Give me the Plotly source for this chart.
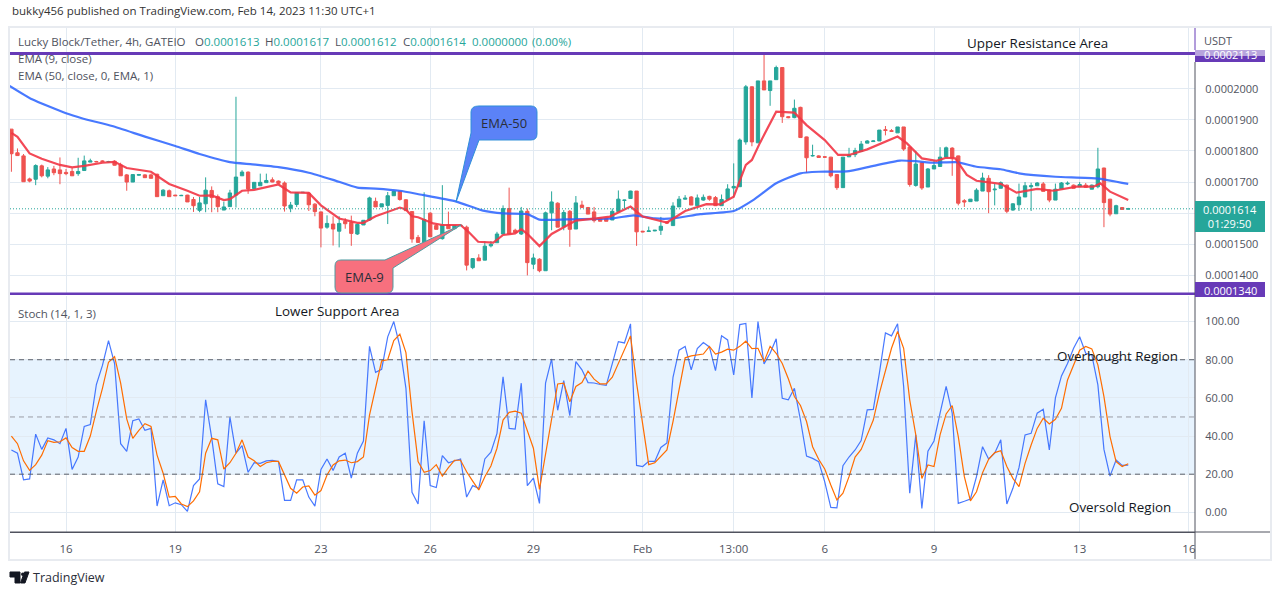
import plotly.graph_objects as go

W, H = 1280, 595
SCALE = 1e-7

opens = [1870,1794,1784,1710,1709,1752,1719,1742,1739,1731,1734,1727,1737,1764,1766,1768,1765,1767,1755,1723,1700,1722,1723,1723,1725,1656,1672,1658,1656,1658,1644,1609,1630,1673,1653,1610,1621,1658,1720,1732,1679,1688,1698,1707,1703,1697,1616,1628,1666,1664,1629,1604,1555,1565,1542,1574,1570,1533,1562,1578,1638,1620,1625,1656,1670,1643,1605,1522,1506,1600,1560,1518,1562,1550,1560,1555,1425,1456,1449,1495,1505,1533,1615,1545,1533,1606,1436,1452,1415,1601,1632,1556,1606,1549,1626,1618,1604,1584,1583,1578,1605,1641,1647,1671,1542,1541,1543,1545,1572,1560,1620,1645,1652,1624,1642,1654,1650,1624,1644,1681,1685,1829,2006,1826,2025,1994,2029,2068,1910,1907,1940,1845,1784,1784,1781,1780,1724,1682,1781,1788,1798,1825,1830,1832,1868,1865,1858,1877,1812,1689,1762,1684,1742,1750,1780,1809,1784,1640,1637,1639,1671,1712,1675,1680,1690,1610,1627,1652,1685,1688,1694,1674,1642,1678,1694,1690,1685,1690,1677,1685,1745,1645,1598,1618,1613]
highs = [1870,1808,1790,1714,1757,1756,1748,1752,1779,1742,1745,1778,1785,1775,1768,1770,1768,1770,1762,1726,1725,1726,1725,1727,1727,1677,1676,1659,1659,1659,1652,1652,1715,1686,1660,1637,1675,1974,1738,1734,1700,1727,1727,1715,1705,1702,1636,1668,1668,1668,1632,1605,1593,1590,1590,1584,1592,1566,1577,1653,1650,1630,1668,1672,1672,1645,1606,1530,1667,1603,1565,1690,1605,1560,1562,1560,1455,1468,1510,1510,1540,1625,1682,1550,1620,1615,1470,1455,1605,1670,1635,1610,1610,1655,1640,1620,1620,1587,1585,1615,1673,1643,1672,1671,1543,1557,1546,1588,1575,1635,1655,1658,1655,1660,1660,1656,1655,1660,1693,1760,1840,2012,2008,2025,2113,2025,2074,2068,1912,1965,1942,1846,1820,1786,1783,1781,1725,1780,1810,1810,1832,1835,1834,1867,1880,1870,1877,1877,1813,1800,1764,1745,1770,1812,1814,1812,1785,1645,1645,1680,1730,1722,1695,1702,1692,1632,1695,1700,1698,1700,1700,1676,1695,1700,1702,1692,1700,1697,1692,1810,1746,1646,1627,1619,1617]
lows = [1733,1784,1701,1699,1690,1715,1712,1722,1693,1722,1720,1720,1737,1764,1764,1765,1763,1753,1720,1672,1700,1720,1713,1711,1653,1656,1653,1655,1655,1636,1604,1603,1603,1603,1603,1610,1621,1618,1720,1662,1679,1688,1698,1699,1695,1605,1603,1620,1665,1607,1590,1490,1550,1496,1490,1550,1495,1530,1562,1575,1620,1620,1565,1656,1640,1608,1505,1505,1500,1524,1548,1515,1550,1548,1558,1416,1420,1447,1449,1490,1505,1533,1533,1537,1530,1400,1420,1410,1415,1545,1555,1545,1492,1549,1618,1597,1570,1574,1574,1578,1605,1615,1647,1495,1539,1540,1542,1530,1565,1560,1620,1644,1626,1624,1640,1640,1624,1624,1644,1650,1685,1820,1815,1826,1996,1945,2029,1890,1905,1905,1843,1730,1782,1778,1779,1715,1675,1682,1781,1780,1798,1825,1830,1832,1850,1862,1858,1800,1685,1685,1675,1684,1742,1750,1780,1720,1625,1620,1637,1639,1671,1600,1625,1680,1600,1608,1607,1652,1607,1688,1670,1635,1642,1678,1690,1680,1685,1683,1677,1680,1555,1590,1598,1612,1612]
closes = [1791,1785,1701,1703,1753,1720,1739,1730,1727,1727,1720,1734,1768,1768,1765,1766,1766,1754,1720,1700,1724,1724,1714,1712,1653,1674,1653,1656,1657,1636,1624,1633,1674,1650,1621,1620,1665,1716,1732,1678,1699,1699,1705,1700,1696,1623,1626,1666,1667,1627,1605,1552,1567,1549,1567,1566,1535,1564,1577,1649,1620,1630,1656,1670,1644,1608,1517,1506,1579,1524,1548,1562,1550,1560,1561,1433,1454,1447,1494,1500,1533,1615,1533,1538,1607,1441,1456,1415,1601,1636,1555,1602,1548,1633,1618,1597,1576,1574,1574,1606,1645,1642,1671,1540,1540,1543,1545,1558,1568,1623,1645,1648,1626,1649,1651,1645,1624,1644,1678,1686,1835,2006,1829,2025,1996,2025,2068,1910,1907,1937,1843,1778,1785,1779,1780,1720,1682,1780,1787,1801,1822,1832,1832,1867,1866,1863,1877,1806,1692,1758,1681,1742,1753,1780,1810,1778,1632,1636,1645,1674,1713,1669,1677,1698,1606,1630,1652,1688,1688,1697,1670,1642,1677,1697,1696,1680,1692,1683,1690,1742,1634,1597,1624,1612,1614]

ema9_bars = [0,1,3,5,8,10,12,15,17,19,23,26,29,31,33,35,36,37,38,40,44,46,49,51,54,57,58,60,62,64,65,66,67,68,69.5,71,74,75.3,76.9,79.4,81,83,84,85.2,87,89,91,93,96.4,98.6,102,104,108,111,114.5,116.7,119,121,122,123.3,126,129,131,134,136.2,138,141,146,147.5,150,152.4,154,155.5,157.4,159,163,165.6,169,171.7,175.5,178.3,179.4,181,184]
ema9_vals = [1858,1845,1792,1775,1755,1747,1752,1762,1765,1745,1733,1694,1672,1656,1657,1642,1645,1660,1672,1675,1692,1667,1665,1625,1583,1569,1569,1590,1603,1618,1612,1590,1587,1579,1567,1562,1562,1540,1508,1505,1530,1535,1549,1530,1494,1533,1554,1576,1583,1589,1621,1589,1570,1607,1629,1628,1653,1755,1771,1825,1926,1923,1883,1835,1787,1787,1805,1846,1825,1776,1768,1778,1776,1723,1704,1694,1666,1678,1672,1685,1685,1696,1669,1642]

ema50_bars = [-0.3,3.4,9,11.6,16.6,22,27,31,36,39.7,44,49,53,57,60,64,67.3,73.3,77.7,81,85,87,91.5,99,102.5,106,109,113.5,119,122.2,126,130,133,137.6,142,146.4,149,152,155.7,159,163,166,172,178.8,184]
ema50_vals = [2009,1966,1921,1905,1880,1846,1816,1790,1764,1757,1748,1730,1707,1682,1679,1672,1660,1637,1608,1599,1597,1579,1580,1583,1593,1583,1583,1597,1607,1642,1696,1728,1733,1734,1752,1769,1767,1762,1764,1749,1741,1728,1717,1712,1694]

stoch_k = [32.7,31,17,17.5,41,33,39,38,36,44,22.5,29,45,46,67,77,90,78,36,32,48,49,43,44,3.3,17,3.5,5,4,0.5,14,17.5,59,39,15,13.5,50,31,35,21,26,25.7,27,27.3,26.6,6.3,6.3,17,17,8,3.3,22.5,28,22,29,31,18,31,37.4,87,73.4,75,92,100,87,65,10.5,4.4,48,14,13,29.7,26,27,28,8,14,12.6,28,31.5,41.4,71,44,43.7,67.7,14,18,4.7,67.7,80.4,53.5,69,50.7,79,74.7,68,67.8,67,66.6,78,89.5,88.8,98.8,24.6,24,26.7,26.7,34,36.4,70.8,85,87,74.7,85.8,89,86.7,74.3,92.5,90.4,72,98.4,99,60,100,77.8,83.4,91,59.8,59,65,48.4,29.5,28.3,26.6,16,2.6,2.3,24.5,29,32.7,37.6,53.7,54,73,94,92.5,98.8,66,10,40.6,2,32,37.4,52,66,52,4.7,5.8,7,18.7,34.4,28,31,38,4.4,12.6,23.4,40.6,41.4,52,54,32.7,60,71.5,78,86,92,83.4,82.5,66.8,33,19,27.4,24.6,24.8]
stoch_d = [40,36,27,22,25,30,37.6,36.7,37,39,34,32,32,40,53,65,78.7,81.6,67.7,49,38.8,43,46.5,45,30,20.5,8,8.4,4.4,3,6,10.8,31,38.8,38,22.7,26,31,38,29,27,24,26,26.7,26.7,19.6,12.6,10,13.3,13.8,9,11.4,19.6,24.8,27,27.4,26,26.6,29,51,65.6,79.4,80,90,93.4,83.7,52.8,26.6,21,21.9,25,19,23.4,27.3,27.3,21.3,16.4,11.7,18.7,24.3,33.6,48.4,52.4,53,52,42.3,33.6,12,30,50,67.3,67.7,57.9,66,68,74,69.8,67.3,67.3,70.8,78,85,92.5,67.7,46.7,25,26,29.5,32.7,47.6,64,81,82,82.5,83,87,83,84,85.5,85,87,89.7,85.8,86,79,87,83.4,78,70,60.7,56,47.6,34.4,27.8,22.7,14.3,6.5,10,18.7,29,33,40.6,48.4,62.4,73.8,86,94.8,86,59,40.6,17.8,24.8,24,40.6,51.6,56,39.7,18.7,6,10.8,20.8,27.8,31.3,32.3,24,17.8,13.5,25.7,35.3,44,49.3,46.3,48.8,54.5,69.4,77.3,85,87,85.7,77.3,60.7,39.7,26.6,24,25.5]

x_tick_bars = [9,27,51,69,86,104,119,134,152,176,194]
x_tick_text = ["16","19","23","26","29","Feb","13:00","6","9","13","16"]
price_ticks = [1400,1500,1600,1700,1800,1900,2000]
price_tick_text = ["0.0001400","0.0001500","","0.0001700","0.0001800","0.0001900","0.0002000"]
stoch_ticks = [0,20,40,60,80,100]
resistance, support, last_price = 2113, 1340, 1614
stoch_levels = [80,50,20]

bars = list(range(len(closes)))
p = lambda seq: [v * SCALE for v in seq]

GREEN, RED = "#26a69a", "#ef5350"
GRID = "#e2eaf2"
PURPLE = "#673ab7"
TXT = "#50535e"
FONT = "Open Sans"

def X(px): return px / W
def Y(py): return 1 - py / H

fig = go.Figure()
fig.add_trace(go.Candlestick(
    x=bars, open=p(opens), high=p(highs), low=p(lows), close=p(closes),
    xaxis="x2", yaxis="y2", whiskerwidth=0,
    increasing=dict(line=dict(color=GREEN, width=1), fillcolor=GREEN),
    decreasing=dict(line=dict(color=RED, width=1), fillcolor=RED),
    hoverinfo="skip", showlegend=False))
fig.add_trace(go.Scatter(x=ema50_bars, y=p(ema50_vals), xaxis="x2", yaxis="y2", mode="lines",
                         line=dict(color="#2962ff", width=2.2, shape="spline", smoothing=0.5), opacity=0.85, hoverinfo="skip", showlegend=False))
fig.add_trace(go.Scatter(x=ema9_bars, y=p(ema9_vals), xaxis="x2", yaxis="y2", mode="lines",
                         line=dict(color="#f23645", width=2.2), opacity=0.9, hoverinfo="skip", showlegend=False))
fig.add_trace(go.Scatter(x=bars, y=stoch_k, xaxis="x", yaxis="y", mode="lines",
                         line=dict(color="#2962ff", width=1.2), opacity=0.85, hoverinfo="skip", showlegend=False))
fig.add_trace(go.Scatter(x=bars, y=stoch_d, xaxis="x", yaxis="y", mode="lines",
                         line=dict(color="#ff6d00", width=1.2), hoverinfo="skip", showlegend=False))

xrange_ = [-0.23, 195]
price_range = [1337 * SCALE, 2195 * SCALE]
stoch_range = [-10.3, 113.4]
xdom = [X(10), X(1195)]

fig.update_layout(
    width=W, height=H, autosize=False,
    margin=dict(l=0, r=0, t=0, b=0),
    paper_bgcolor="white", plot_bgcolor="white",
    font=dict(family=FONT, size=11, color=TXT),
    showlegend=False, hovermode=False, boxgap=0.22,
    xaxis=dict(domain=xdom, range=xrange_, anchor="y", tickmode="array", tickvals=x_tick_bars,
               ticktext=x_tick_text, showgrid=True, gridcolor=GRID, gridwidth=1, zeroline=False,
               ticks="outside", ticklen=6, tickcolor="rgba(0,0,0,0)", showline=True,
               linecolor=TXT, linewidth=1, tickfont=dict(size=11.5, color=TXT), tickangle=0),
    xaxis2=dict(domain=xdom, range=xrange_, anchor="y2", tickmode="array", tickvals=x_tick_bars,
                showticklabels=False, showgrid=True, gridcolor=GRID, gridwidth=1, zeroline=False,
                rangeslider=dict(visible=False), ticks=""),
    yaxis=dict(domain=[Y(532), Y(296)], range=stoch_range, side="right", anchor="x", tickmode="array",
               tickvals=stoch_ticks, tickformat=".2f", showgrid=True, gridcolor=GRID, gridwidth=1,
               zeroline=False, ticks="outside", ticklen=7, tickcolor="rgba(0,0,0,0)",
               tickfont=dict(size=11, color=TXT)),
    yaxis2=dict(domain=[Y(295), Y(28)], range=price_range, side="right", anchor="x2", tickmode="array",
                tickvals=p(price_ticks), ticktext=price_tick_text, showgrid=True, gridcolor=GRID, gridwidth=1,
                zeroline=False, ticks="outside", ticklen=7, tickcolor="rgba(0,0,0,0)",
                tickfont=dict(size=11, color=TXT)),
)

shapes = []
shapes.append(dict(type="rect", xref="x", yref="y", x0=xrange_[0], x1=xrange_[1], y0=stoch_levels[2], y1=stoch_levels[0],
                   fillcolor="rgba(33,150,243,0.11)", line_width=0, layer="below"))
for lv, dash_col in zip(stoch_levels, ["#5d606b", "#9a9da6", "#5d606b"]):
    shapes.append(dict(type="line", xref="x", yref="y", x0=xrange_[0], x1=xrange_[1], y0=lv, y1=lv,
                       line=dict(color=dash_col, width=1, dash="5px,4px"), layer="above"))
shapes.append(dict(type="line", xref="x2", yref="y2", x0=xrange_[0], x1=xrange_[1], y0=last_price*SCALE, y1=last_price*SCALE,
                   line=dict(color=GREEN, width=1, dash="1px,2px"), layer="above"))
for lv in (resistance, support):
    shapes.append(dict(type="line", xref="x2", yref="y2", x0=xrange_[0], x1=xrange_[1], y0=lv*SCALE, y1=lv*SCALE,
                       line=dict(color=PURPLE, width=3), layer="above"))

def prect(x0, y0, x1, y1, fill, line=None):
    return dict(type="rect", xref="paper", yref="paper", x0=X(x0), x1=X(x1), y0=Y(y1), y1=Y(y0),
                fillcolor=fill, line=dict(color=line or fill, width=0 if line is None else 1), layer="above")

def pline(x0, y0, x1, y1, col, w=1):
    return dict(type="line", xref="paper", yref="paper", x0=X(x0), x1=X(x1), y0=Y(y0), y1=Y(y1),
                line=dict(color=col, width=w), layer="above")

def ppath(cmds, fill, line):
    s = ""
    for c in cmds:
        if len(c) == 1:
            s += c[0] + " "
        else:
            s += c[0] + " " + " ".join(f"{X(c[i]):.5f},{Y(c[i+1]):.5f}" for i in range(1, len(c), 2)) + " "
    return dict(type="path", xref="paper", yref="paper", path=s, fillcolor=fill,
                line=dict(color=line, width=1), layer="above")

shapes.append(prect(1196, 533, 1269, 558, "white"))
shapes.append(pline(1195, 62, 1195, 559, TXT))
shapes.append(pline(1195, 28, 1195, 50, PURPLE))
shapes.append(pline(10, 532, 1270, 532, TXT))
shapes.append(dict(type="rect", xref="paper", yref="paper", x0=X(9), x1=X(1271), y0=Y(560), y1=Y(27),
                   line=dict(color="#e8ebf0", width=2), fillcolor="rgba(0,0,0,0)", layer="above"))
shapes.append(prect(1195, 50, 1265, 56, "#b7a3dd"))
shapes.append(prect(1195, 56, 1265, 62, PURPLE))
shapes.append(prect(1195, 282, 1265, 297, PURPLE))
shapes.append(prect(1195, 201, 1265, 232, GREEN))
shapes.append(ppath([("M",479,106),("L",531,106),("Q",537,106,537,112),("L",537,134),("Q",537,140,531,140),
                     ("L",479,140),("L",456,202),("L",471,133),("L",471,112),("Q",471,106,479,106),("Z",)],
                    "#5b82f7", "#2f8fd8"))
shapes.append(ppath([("M",341,260),("L",385,260),("L",461,225),("L",393,268),("L",393,287),("Q",393,293,387,293),
                     ("L",341,293),("Q",335,293,335,287),("L",335,266),("Q",335,260,341,260),("Z",)],
                    "#f7707e", "#4f9aa0"))
shapes.append(ppath([("M",10,572),("L",20,572),("L",20,583),("L",15,583),("L",15,577),("L",10,577),("Z",)], "#131722", "#131722"))
shapes.append(dict(type="circle", xref="paper", yref="paper", x0=X(21), x1=X(24.5), y0=Y(576), y1=Y(572.5),
                   fillcolor="#131722", line=dict(color="#131722", width=0), layer="above"))
shapes.append(ppath([("M",24.5,572),("L",29,572),("L",25,583),("L",20.5,583),("Z",)], "#131722", "#131722"))
fig.update_layout(shapes=shapes)

def note(px, py, text, size=12, color=TXT, anchor="left"):
    fig.add_annotation(xref="paper", yref="paper", x=X(px), y=Y(py), text=text, showarrow=False,
                       xanchor=anchor, yanchor="middle", font=dict(family=FONT, size=size, color=color),
                       borderpad=0, borderwidth=0)

note(12, 10, "bukky456 published on TradingView.com, Feb 14, 2023 11:30 UTC+1", 11.5, "#333333")
note(18, 42, "Lucky Block/Tether, 4h, GATEIO", 11.5)
def ohlc(px, lab, val):
    note(px, 42, f"{lab}<span style='color:{GREEN}'>{val}</span>", 11.5)
ohlc(195, "O", "0.0001613")
ohlc(265, "H", "0.0001617")
ohlc(335, "L", "0.0001612")
ohlc(403, "C", "0.0001614")
note(472, 42, "0.0000000", 11.5, GREEN)
note(532, 42, "(0.00%)", 11.5, GREEN)
note(18, 59, "EMA (9, close)", 11.5)
note(18, 75, "EMA (50, close, 0, EMA, 1)", 11.5)
note(18, 313, "Stoch (14, 1, 3)", 11.5)
note(1204, 41, "USDT", 11)
note(1037, 43, "Upper Resistance Area", 13.4, "#131722", "center")
note(337, 311, "Lower Support Area", 13.4, "#131722", "center")
note(1117, 356, "Overbought Region", 13.4, "#131722", "center")
note(1120, 507, "Oversold Region", 13.4, "#131722", "center")
note(504, 123, "EMA-50", 13, "#2a2e39", "center")
note(364, 277, "EMA-9", 13, "#2a2e39", "center")
note(1230, 54, "0.0002113", 11, "#ffffff", "center")
note(1230, 290, "0.0001340", 11, "#ffffff", "center")
note(1230, 216.5, "0.0001614<br>01:29:50", 11, "#ffffff", "center")
note(33, 577, "TradingView", 12.5, "#2a2e39")

fig.write_html("out.html", config=dict(displayModeBar=False),
               post_script="document.body.style.margin='0';")
